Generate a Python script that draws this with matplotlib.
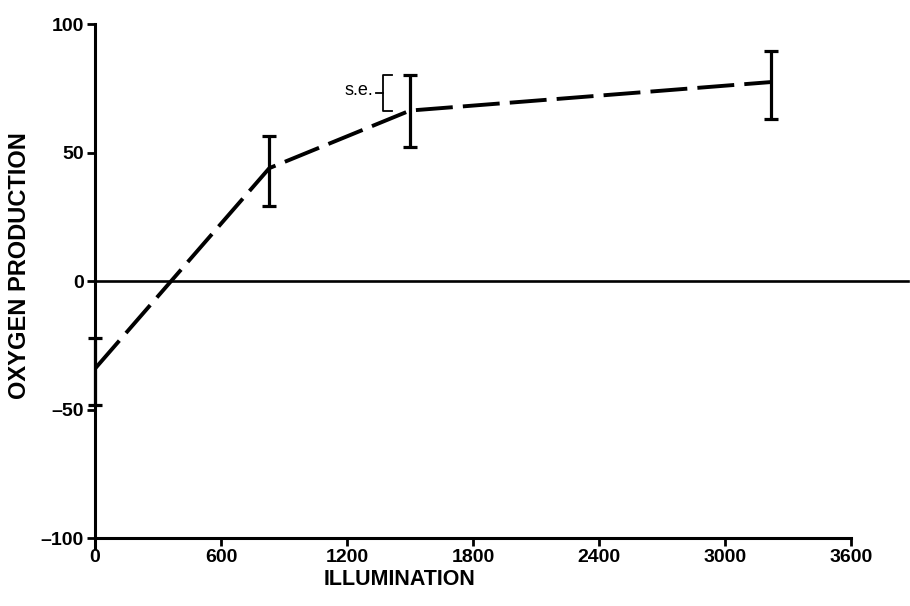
import matplotlib
matplotlib.use("Agg")
import matplotlib.pyplot as plt

illumination = [0, 830, 1500, 3220]
oxygen = [-34, 44, 66.4, 77.5]
se_upper = [-22, 56.4, 80.3, 89.6]
se_lower = [-48, 29.3, 52.3, 63.2]

xticks = [0, 600, 1200, 1800, 2400, 3000, 3600]
yticks = [-100, -50, 0, 50, 100]

plt.rcParams['font.family'] = ['Liberation Sans', 'DejaVu Sans']

fig = plt.figure(figsize=(9.1, 6.06), dpi=100)
ax = fig.add_axes([0.1045, 0.112, 0.8305, 0.848])

# zero line
ax.plot([0, 3870], [0, 0], color='black', lw=1.9, clip_on=False, zorder=2)

# data line
ax.plot(illumination, oxygen, color='black', lw=2.8, dashes=(9.5, 2.6),
        solid_capstyle='butt', dash_capstyle='butt', zorder=3)

# error bars
lo = [o - l for o, l in zip(oxygen, se_lower)]
hi = [u - o for o, u in zip(oxygen, se_upper)]
ax.errorbar(illumination, oxygen, yerr=[lo, hi], fmt='none', ecolor='black',
            elinewidth=2.3, capsize=5, capthick=2.3, zorder=4, clip_on=False)

# s.e. bracket annotation
bx = 1371
btop = se_upper[2]
bbot = oxygen[2]
ax.plot([bx + 45, bx, bx, bx + 45], [btop, btop, bbot, bbot], color='black',
        lw=1.3, zorder=4)
ax.plot([bx - 35, bx], [(btop + bbot) / 2] * 2, color='black', lw=1.3, zorder=4)
ax.text(bx - 45, (btop + bbot) / 2 + 1, 's.e.', ha='right', va='center',
        fontsize=13)

ax.set_xlim(0, 3600)
ax.set_ylim(-100, 100)
ax.set_xticks(xticks)
ax.set_yticks(yticks)
ax.set_yticklabels([('\u2013' + str(abs(v))) if v < 0 else str(v) for v in yticks])
ax.spines['top'].set_visible(False)
ax.spines['right'].set_visible(False)
for s in ['left', 'bottom']:
    ax.spines[s].set_linewidth(2.2)
ax.spines['left'].set_bounds(-104, 100)
ax.tick_params(axis='both', direction='out', length=6, width=2.0, labelsize=14,
               pad=2)
for lab in ax.get_xticklabels() + ax.get_yticklabels():
    lab.set_fontweight('bold')
ax.set_xlabel('ILLUMINATION', fontsize=15.5, fontweight='bold')
ax.set_ylabel('OXYGEN PRODUCTION', fontsize=17, fontweight='bold')
ax.xaxis.set_label_coords(0.403, -0.06)
ax.yaxis.set_label_coords(-0.085, 0.53)

fig.savefig('out.png', dpi=100)
